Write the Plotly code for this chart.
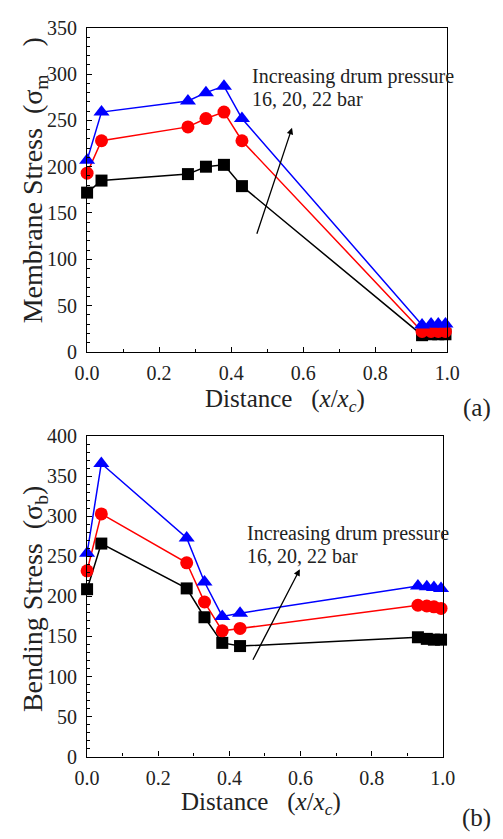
import plotly.graph_objects as go

# Normalised distance along the drum (x / x_c)
distance = [0.0, 0.04, 0.28, 0.33, 0.38, 0.43, 0.93, 0.955, 0.975, 0.995]

# (a) Membrane stress for drum pressures 16, 20, 22 bar
membrane_16 = [172, 185, 192, 200, 202, 179, 18, 19, 19, 19]
membrane_20 = [193, 228, 243, 252, 259, 228, 22, 22, 22, 22]
membrane_22 = [207, 259, 271, 280, 287, 252, 29, 30, 30, 30]

# (b) Bending stress for drum pressures 16, 20, 22 bar
bending_16 = [209, 266, 210, 174, 142, 138, 149, 147, 146, 146]
bending_20 = [232, 303, 242, 193, 157, 160, 189, 188, 187, 185]
bending_22 = [254, 366, 273, 218, 175, 179, 213, 212, 211, 210]

x_tick_vals = [0.0, 0.2, 0.4, 0.6, 0.8, 1.0]
x_tick_text = ["0.0", "0.2", "0.4", "0.6", "0.8", "1.0"]

SERIF = "Liberation Serif"
INK = "#222"
NB = "\u00a0"
series_style = [
    ("16 bar", "black", "square", 12),
    ("20 bar", "#ff0000", "circle", 13),
    ("22 bar", "#0000ff", "triangle-up", 14),
]

fig = go.Figure()

def add_series(values, xa, ya):
    for vals, (name, color, symbol, size) in zip(values, series_style):
        fig.add_trace(go.Scatter(
            x=distance, y=vals, name=name, mode="lines+markers",
            line=dict(color=color, width=1.5),
            marker=dict(symbol=symbol, size=size, color=color),
            xaxis=xa, yaxis=ya, cliponaxis=False, showlegend=False,
        ))

add_series([membrane_16, membrane_20, membrane_22], "x", "y")
add_series([bending_16, bending_20, bending_22], "x2", "y2")

def xaxis_style(domain, anchor):
    return dict(
        domain=domain, anchor=anchor, range=[0, 1],
        tickvals=x_tick_vals, ticktext=x_tick_text,
        ticks="inside", ticklen=5, tickwidth=1.2, tickcolor="black",
        minor=dict(dtick=0.1, tick0=0, ticks="inside", ticklen=3, tickcolor="black"),
        showline=True, linecolor="black", linewidth=1.2, mirror=True,
        showgrid=False, zeroline=False, ticklabelstandoff=3,
        tickfont=dict(family=SERIF, size=20, color=INK),
    )

def yaxis_style(domain, anchor, top):
    return dict(
        domain=domain, anchor=anchor, range=[0, top], dtick=50, tick0=0,
        ticks="inside", ticklen=5, tickwidth=1.2, tickcolor="black",
        minor=dict(dtick=10, tick0=0, ticks="inside", ticklen=3, tickcolor="black"),
        showline=True, linecolor="black", linewidth=1.2, mirror=True,
        showgrid=False, zeroline=False, ticklabelstandoff=5,
        tickfont=dict(family=SERIF, size=20, color=INK),
    )

def note(xref, yref, x, y, text):
    return dict(xref=xref, yref=yref, x=x, y=y, text=text, showarrow=False,
                xanchor="left", yanchor="middle", align="left",
                font=dict(family=SERIF, size=20, color=INK))

def paper_text(x, y, text, size, angle=0):
    return dict(xref="paper", yref="paper", x=x, y=y, text=text, showarrow=False,
                xanchor="center", yanchor="middle", textangle=angle,
                font=dict(family=SERIF, size=size, color=INK))

x_title = f"Distance{NB*3}(<i>x</i>/<i>x</i><sub><i>c</i></sub>)"
y_title_a = f"Membrane Stress{NB*2}(σ<sub>m</sub>{NB*4})"
y_title_b = f"Bending Stress{NB*2}(σ<sub>b</sub>)"

line_one = "Increasing drum pressure"
line_two = "16, 20, 22 bar"
annotations = [
    note("x", "y", 0.452, 297.5, line_one),
    note("x", "y", 0.452, 273.5, line_two),
    dict(xref="x", yref="y", x=0.569, y=242, ax=0.47, ay=126, axref="x", ayref="y",
         text="", showarrow=True, arrowhead=2, arrowsize=1, arrowwidth=1.3, arrowcolor="black"),
    note("x2", "y2", 0.443, 278, line_one),
    note("x2", "y2", 0.443, 250, line_two),
    dict(xref="x2", yref="y2", x=0.598, y=234, ax=0.464, ay=119, axref="x2", ayref="y2",
         text="", showarrow=True, arrowhead=2, arrowsize=1, arrowwidth=1.3, arrowcolor="black"),
    # axis titles
    paper_text(286 / 503, 1 - 400 / 839, x_title, 25),
    paper_text(261 / 503, 1 - 814 / 839, x_title, 25),
    paper_text(23 / 503, 1 - 174 / 839, y_title_a, 28, -90),
    paper_text(22 / 503, 1 - 604 / 839, y_title_b, 28, -90),
    # panel labels
    dict(xref="paper", yref="paper", x=1.0, y=1 - 408 / 839, text="(a)", showarrow=False,
         xanchor="right", yanchor="middle", xshift=2,
         font=dict(family=SERIF, size=25, color=INK)),
    dict(xref="paper", yref="paper", x=1.0, y=1 - 829 / 839, text="(b)", showarrow=False,
         xanchor="right", yanchor="middle", xshift=2,
         font=dict(family=SERIF, size=25, color=INK)),
]

fig.update_layout(
    width=503, height=839,
    margin=dict(l=0, r=0, t=0, b=0),
    paper_bgcolor="white", plot_bgcolor="white",
    xaxis=xaxis_style([0.155, 0.9085], "y"),
    yaxis=yaxis_style([0.5828, 0.9794], "x", 350),
    xaxis2=xaxis_style([0.155, 0.8992], "y2"),
    yaxis2=yaxis_style([0.0874, 0.4795], "x2", 400),
    annotations=annotations,
)

fig.write_html("out.html")
